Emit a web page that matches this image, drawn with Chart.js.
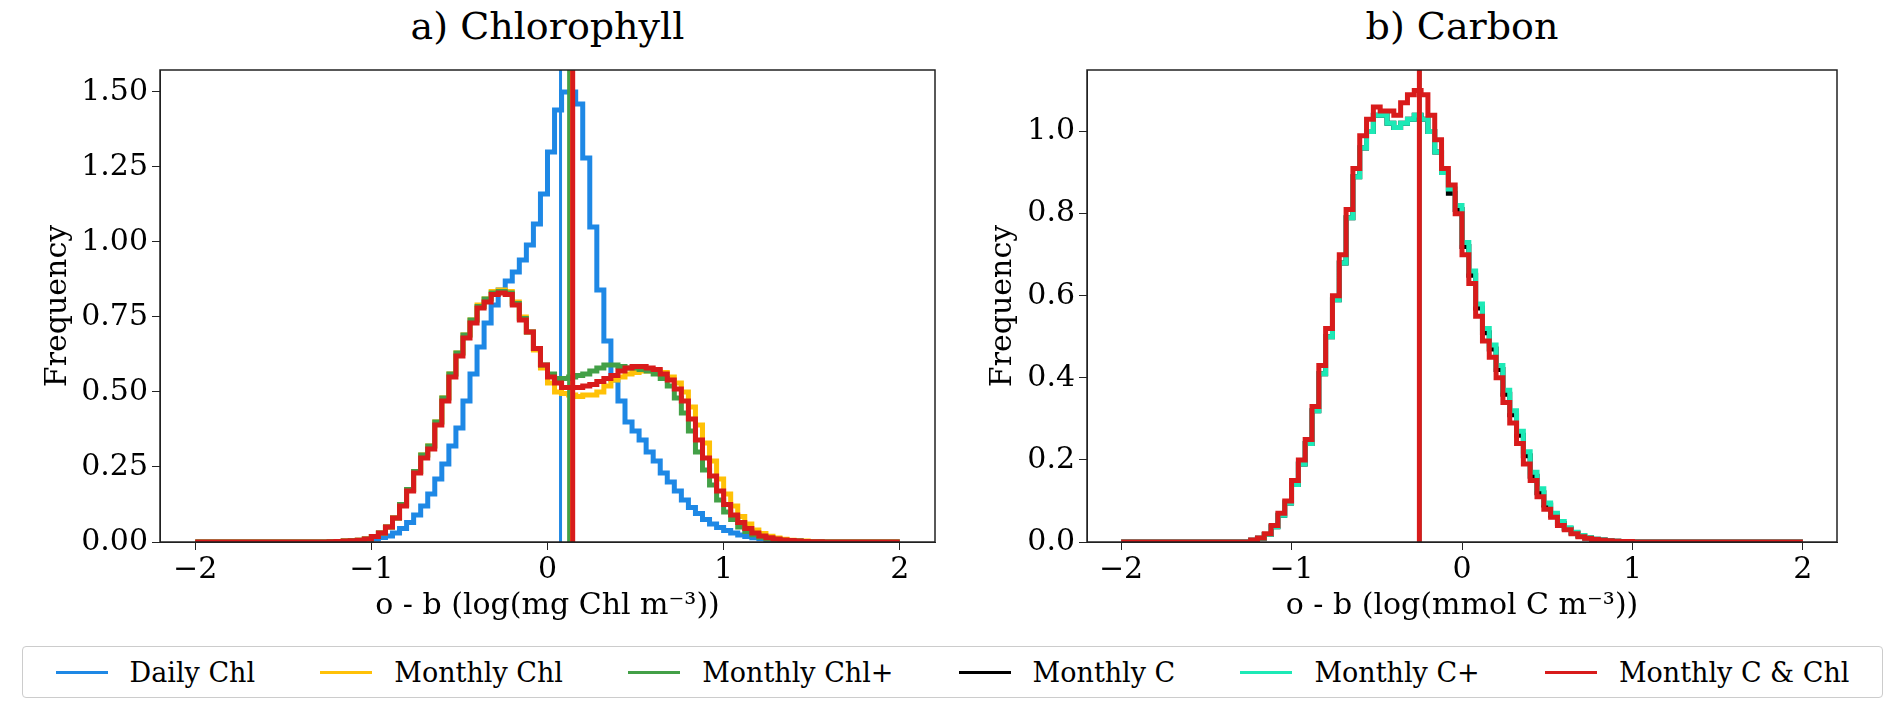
<!DOCTYPE html>
<html>
<head>
<meta charset="utf-8">
<script src="https://cdn.jsdelivr.net/npm/chart.js@4/dist/chart.umd.min.js"></script>
<style>
  body { margin: 0; background: #fff; width: 1892px; height: 721px; overflow: hidden; font-family: "DejaVu Serif", serif; }
  .box { position: absolute; top: 48px; width: 946px; height: 580px; }
  .ttl { position: absolute; top: 4px; font-size: 38px; color: #000; text-align: center; }
  #legend { position: absolute; left: 22px; top: 646px; width: 1859px; height: 50px; border: 1px solid #ccc; border-radius: 4px;
            display: flex; justify-content: space-around; align-items: center; font-size: 27px; }
  #legend span.it { display: flex; align-items: center; }
  #legend span.ln { display: inline-block; width: 52px; height: 3px; margin-right: 22px; }
</style>
</head>
<body>
<div class="ttl" style="left:160px;width:775px">a) Chlorophyll</div>
<div class="ttl" style="left:1087px;width:750px">b) Carbon</div>
<div class="box" style="left:0"><canvas id="chl"></canvas></div>
<div class="box" style="left:946px"><canvas id="carb"></canvas></div>
<div id="legend"></div>
<script>
// ---------- Data ----------
// histogram bins: width 0.04 on [-2, 2]; listed values cover bin centres -1.18 .. 1.62, other bins are 0
const binStart = -2, binWidth = 0.04, binCount = 100;
const windowFirstCentre = -1.18;

const seriesNames = ["Daily Chl", "Monthly Chl", "Monthly Chl+", "Monthly C", "Monthly C+", "Monthly C & Chl"];
const seriesColors = ["#1e88e5", "#ffc107", "#43a047", "#000000", "#1de9b6", "#d81b1b"];

const chlDaily = [
  0,0,0.001,0.002,0.003,0.005,0.01,0.015,0.02,0.03,
  0.045,0.065,0.09,0.12,0.16,0.21,0.26,0.32,0.38,0.47,
  0.56,0.65,0.73,0.79,0.84,0.87,0.90,0.94,0.99,1.06,
  1.16,1.30,1.44,1.50,1.50,1.46,1.28,1.05,0.84,0.67,
  0.54,0.47,0.40,0.37,0.34,0.30,0.27,0.23,0.20,0.17,
  0.14,0.115,0.095,0.075,0.06,0.048,0.038,0.03,0.023,0.018,
  0.014,0.011,0.008,0.006,0.005,0.004,0.003,0.002,0.001,0.001,
  0];
const chlMonthly = [
  0.001,0.002,0.003,0.004,0.006,0.01,0.018,0.03,0.05,0.08,
  0.125,0.175,0.235,0.29,0.32,0.40,0.48,0.56,0.63,0.69,
  0.74,0.79,0.81,0.835,0.84,0.835,0.80,0.75,0.70,0.64,
  0.58,0.53,0.50,0.495,0.49,0.485,0.49,0.49,0.50,0.52,
  0.54,0.55,0.56,0.565,0.57,0.57,0.57,0.565,0.55,0.53,
  0.50,0.45,0.39,0.33,0.27,0.21,0.16,0.12,0.085,0.06,
  0.04,0.028,0.019,0.013,0.009,0.006,0.004,0.003,0.002,0.001,
  0];
const chlMonthlyPlus = [
  0.001,0.002,0.003,0.004,0.006,0.01,0.018,0.03,0.05,0.08,
  0.125,0.175,0.235,0.29,0.32,0.40,0.48,0.56,0.63,0.69,
  0.74,0.785,0.81,0.83,0.835,0.83,0.795,0.745,0.70,0.645,
  0.59,0.56,0.545,0.545,0.55,0.555,0.56,0.57,0.58,0.59,
  0.59,0.585,0.58,0.58,0.575,0.57,0.56,0.545,0.52,0.48,
  0.43,0.37,0.30,0.24,0.19,0.14,0.10,0.075,0.05,0.035,
  0.024,0.016,0.011,0.008,0.005,0.004,0.003,0.002,0.001,0.001,
  0];
const chlMonthlyCChl = [
  0.001,0.002,0.003,0.004,0.006,0.01,0.018,0.03,0.05,0.08,
  0.12,0.17,0.23,0.28,0.31,0.39,0.47,0.55,0.62,0.68,
  0.73,0.78,0.80,0.825,0.83,0.825,0.79,0.74,0.70,0.645,
  0.59,0.55,0.53,0.515,0.515,0.515,0.52,0.525,0.535,0.545,
  0.555,0.57,0.58,0.585,0.585,0.58,0.575,0.56,0.54,0.51,
  0.47,0.41,0.34,0.28,0.22,0.17,0.125,0.09,0.065,0.045,
  0.03,0.02,0.014,0.01,0.007,0.005,0.003,0.002,0.001,0.001,
  0];
const chlMeans = { daily: 0.074, monthly: 0.13, plus: 0.12, cchl: 0.143 };

const carbMonthlyC = [
  0.004,0.009,0.018,0.037,0.065,0.095,0.14,0.19,0.24,0.32,
  0.41,0.50,0.59,0.68,0.79,0.89,0.96,1.00,1.04,1.04,
  1.02,1.01,1.02,1.03,1.04,1.03,1.00,0.95,0.90,0.85,
  0.81,0.72,0.65,0.57,0.51,0.47,0.42,0.36,0.31,0.26,
  0.21,0.16,0.12,0.09,0.065,0.045,0.032,0.022,0.015,0.01,
  0.007,0.005,0.003,0.002,0.001,0.001,0,0,0,0,
  0,0,0,0,0,0,0,0,0,0,
  0];
const carbMonthlyCPlus = [
  0.004,0.009,0.018,0.037,0.065,0.095,0.14,0.19,0.24,0.32,
  0.41,0.50,0.59,0.68,0.79,0.89,0.96,1.00,1.04,1.04,
  1.02,1.01,1.02,1.03,1.04,1.03,1.00,0.95,0.90,0.86,
  0.82,0.73,0.66,0.58,0.52,0.48,0.43,0.37,0.32,0.27,
  0.22,0.17,0.13,0.095,0.07,0.05,0.035,0.024,0.016,0.011,
  0.007,0.005,0.003,0.002,0.001,0.001,0,0,0,0,
  0,0,0,0,0,0,0,0,0,0,
  0];
const carbMonthlyCChl = [
  0.005,0.01,0.02,0.04,0.07,0.10,0.15,0.20,0.25,0.33,
  0.43,0.52,0.60,0.70,0.81,0.91,0.99,1.03,1.06,1.05,
  1.05,1.04,1.07,1.09,1.10,1.09,1.04,0.98,0.91,0.87,
  0.80,0.70,0.63,0.55,0.49,0.45,0.40,0.34,0.29,0.24,
  0.19,0.15,0.11,0.08,0.06,0.04,0.03,0.02,0.013,0.009,
  0.006,0.004,0.003,0.002,0.001,0.001,0,0,0,0,
  0,0,0,0,0,0,0,0,0,0,
  0];
const carbMeans = { c: -0.25, cplus: -0.245, cchl: -0.25 };

const xTicks = [-2, -1, 0, 1, 2];
const chlYTicks = [0, 0.25, 0.5, 0.75, 1.0, 1.25, 1.5];
const carbYTicks = [0, 0.2, 0.4, 0.6, 0.8, 1.0];

// ---------- Helpers ----------
function histPoints(values) {
  const offset = Math.round((windowFirstCentre - binWidth / 2 - binStart) / binWidth);
  const pts = [];
  for (let i = 0; i < binCount; i++) {
    const j = i - offset;
    const v = j >= 0 && j < values.length ? values[j] : 0;
    pts.push({ x: binStart + i * binWidth, y: v });
  }
  pts.push({ x: binStart + binCount * binWidth, y: 0 });
  return pts;
}

function histSet(values, idx) {
  return { data: histPoints(values), borderColor: seriesColors[idx], borderWidth: 5,
           stepped: "after", pointRadius: 0, fill: false, tension: 0 };
}

function meanSet(m, top, idx, w) {
  return { data: [{ x: m, y: 0 }, { x: m, y: top }], borderColor: seriesColors[idx],
           borderWidth: w, pointRadius: 0, fill: false };
}

const frame = {
  id: "frame",
  afterDraw(chart) {
    const { ctx, chartArea: a } = chart;
    ctx.save();
    ctx.strokeStyle = "#222";
    ctx.lineWidth = 1.5;
    ctx.strokeRect(a.left, a.top, a.right - a.left, a.bottom - a.top);
    ctx.restore();
  },
};

const font = { family: "'DejaVu Serif', serif", size: 30 };

// note: Chart.js paints dataset 0 on top, so the top-most line goes first
function makeChart(id, datasets, yMax, yTicks, yDigits, xTitle, yWidth, padLeft, padRight) {
  return new Chart(document.getElementById(id), {
    type: "line",
    data: { datasets },
    plugins: [frame],
    options: {
      responsive: true, maintainAspectRatio: false, animation: false,
      layout: { padding: { top: 12, right: padRight, left: padLeft, bottom: 0 } },
      plugins: { legend: { display: false }, tooltip: { enabled: false } },
      scales: {
        x: {
          type: "linear", min: -2.2, max: 2.2,
          afterBuildTicks: (s) => { s.ticks = xTicks.map((v) => ({ value: v })); },
          afterFit: (s) => { s.height = 86; },
          ticks: { color: "#000", font, padding: 2, callback: (v) => String(v).replace("-", "\u2212") },
          grid: { drawOnChartArea: false, drawTicks: true, tickLength: 8, color: "#222" },
          border: { color: "#222" },
          title: { display: true, text: xTitle, color: "#000", font, padding: { top: 4 } },
        },
        y: {
          min: 0, max: yMax,
          afterBuildTicks: (s) => { s.ticks = yTicks.map((v) => ({ value: v })); },
          afterFit: (s) => { s.width = yWidth; },
          ticks: { color: "#000", font, padding: 4, callback: (v) => v.toFixed(yDigits) },
          grid: { drawOnChartArea: false, drawTicks: true, tickLength: 8, color: "#222" },
          border: { color: "#222" },
          title: { display: true, text: "Frequency", color: "#000", font, padding: { bottom: 2 } },
        },
      },
    },
  });
}

// ---------- Panels ----------
const chlMax = 1.573;
makeChart("chl", [
  meanSet(chlMeans.cchl, chlMax, 5, 5),
  histSet(chlMonthlyCChl, 5),
  meanSet(chlMeans.plus, chlMax, 2, 3),
  histSet(chlMonthlyPlus, 2),
  meanSet(chlMeans.monthly, chlMax, 1, 3),
  histSet(chlMonthly, 1),
  meanSet(chlMeans.daily, chlMax, 0, 3),
  histSet(chlDaily, 0),
], chlMax, chlYTicks, 2, "o - b (log(mg Chl m\u207B\u00B3))", 124, 36, 11);

const carbMax = 1.15;
makeChart("carb", [
  meanSet(carbMeans.cchl, carbMax, 5, 5),
  histSet(carbMonthlyCChl, 5),
  meanSet(carbMeans.cplus, carbMax, 4, 3),
  histSet(carbMonthlyCPlus, 4),
  meanSet(carbMeans.c, carbMax, 3, 3),
  histSet(carbMonthlyC, 3),
], carbMax, carbYTicks, 1, "o - b (log(mmol C m\u207B\u00B3))", 106, 35, 55);

// ---------- Legend ----------
const lg = document.getElementById("legend");
seriesNames.forEach((n, i) => {
  const it = document.createElement("span");
  it.className = "it";
  it.innerHTML = `<span class="ln" style="background:${seriesColors[i]}"></span>${n}`;
  lg.appendChild(it);
});
</script>
</body>
</html>
